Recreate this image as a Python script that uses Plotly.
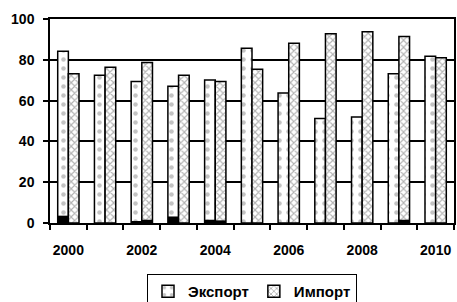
import plotly.graph_objects as go

years = [2000, 2001, 2002, 2003, 2004, 2005, 2006, 2007, 2008, 2009, 2010]
export_vals = [84.2, 72.4, 69.4, 67.0, 70.1, 85.7, 63.7, 51.2, 51.9, 73.2, 81.8]
import_vals = [73.2, 76.4, 78.7, 72.4, 69.4, 75.4, 88.1, 92.8, 93.7, 91.4, 81.0]
export_dark = [3.6, 0, 0.8, 3.2, 1.6, 0, 0, 0, 0, 0, 0]
import_dark = [0, 0, 1.6, 0, 1.3, 0, 0, 0, 0, 1.6, 0]
tick_years = [2000, 2002, 2004, 2006, 2008, 2010]
y_ticks = [0, 20, 40, 60, 80, 100]

W = 0.29
fig = go.Figure()
fig.add_trace(go.Bar(
    x=years, y=export_vals, name="Экспорт", offset=-W, width=W,
    marker=dict(color="white", line=dict(color="black", width=1.5),
                pattern=dict(shape=".", fgcolor="#888888", bgcolor="white", size=9, solidity=0.2)),
))
fig.add_trace(go.Bar(
    x=years, y=import_vals, name="Импорт", offset=0, width=W,
    marker=dict(color="white", line=dict(color="black", width=1.5),
                pattern=dict(shape="x", fgcolor="#666666", bgcolor="white", size=5, solidity=0.4)),
))
fig.add_trace(go.Bar(
    x=years, y=export_dark, offset=-W, width=W, showlegend=False,
    marker=dict(color="black", line=dict(width=0)),
))
fig.add_trace(go.Bar(
    x=years, y=import_dark, offset=0, width=W, showlegend=False,
    marker=dict(color="black", line=dict(width=0)),
))

fig.update_layout(
    width=457, height=302,
    margin=dict(l=50, r=1, t=19, b=79),
    paper_bgcolor="white", plot_bgcolor="white",
    barmode="overlay",
    font=dict(family="Liberation Sans, Arial, sans-serif", size=14, color="black"),
    showlegend=True,
    legend=dict(orientation="h", x=0.5, xanchor="center", yref="container", y=1 - 274 / 302, yanchor="top",
                bordercolor="black", borderwidth=1, font=dict(size=15, weight="bold"),
                itemwidth=30),
    xaxis=dict(range=[1999.5, 2010.5], tickvals=tick_years, ticklen=0, showgrid=False,
               showline=True, linecolor="black", linewidth=1.5, mirror=True,
               tickfont=dict(size=14, weight="bold"), ticklabelstandoff=13,
               ticklabeloverflow="allow",
               minor=dict(tickvals=[y + 0.5 for y in range(1999, 2011)], ticks="outside", ticklen=5,
                          tickcolor="black", tickwidth=1.5, showgrid=False)),
    yaxis=dict(range=[0, 100], tickvals=y_ticks, showgrid=True, gridcolor="black", gridwidth=1.5,
               showline=True, linecolor="black", linewidth=1.5, mirror=True,
               ticks="outside", ticklen=5, tickwidth=1.5, tickcolor="black",
               tickfont=dict(size=14, weight="bold"), ticklabelstandoff=6),
)
fig.write_html("out.html", config={"displayModeBar": False},
               post_script="document.body.style.margin='0';document.body.style.overflow='hidden';")
